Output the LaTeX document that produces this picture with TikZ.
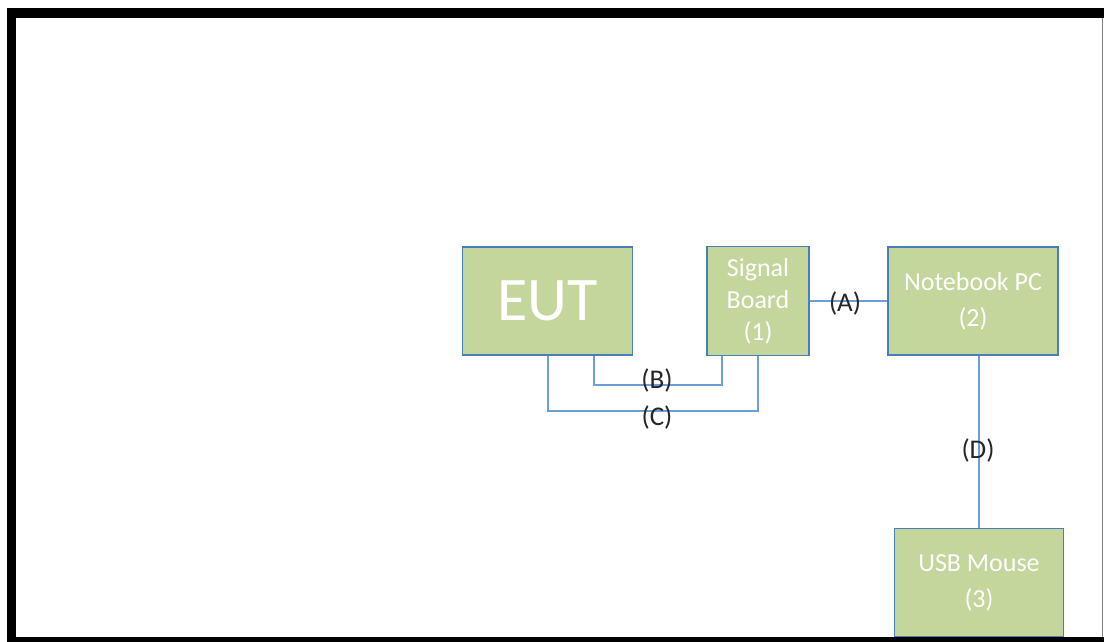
\documentclass[tikz,border=0pt]{standalone}
\usepackage{fontspec}
\setmainfont{Carlito}
\usetikzlibrary{calc}
\usepackage{xcolor}
\definecolor{boxfill}{HTML}{C3D69B}
\definecolor{boxline}{HTML}{4A7EBB}
\definecolor{wire}{HTML}{6C9FD8}

\begin{document}
\begin{tikzpicture}[x=0.5pt,y=-0.5pt,
    box/.style={draw=boxline,line width=0.8pt,fill=boxfill,text=white,align=center,inner sep=0pt,
      font=\fontsize{13}{16}\selectfont},
    wire/.style={draw=wire,line width=1pt},
    lbl/.style={text=black!85,inner sep=0pt,font=\fontsize{13.5}{16}\selectfont}]
    \useasboundingbox (0,0) rectangle (1104,642);
    % frame
    \fill[black] (7,8) rectangle (1104,18);
    \fill[black] (7,8) rectangle (16,642);
    \fill[black] (7,637) rectangle (1104,642);
    \draw[black!50,line width=0.6pt] (1102.5,18) -- (1102.5,637);
    % boxes
    \node[box,minimum width=85pt,minimum height=54pt,font=\fontsize{31}{36}\selectfont] (eut) at (547.5,301) {EUT};
    \node[box,minimum width=51pt,minimum height=54.5pt] (sb) at (758,301) {Signal\\Board\\(1)};
    \node[box,minimum width=85pt,minimum height=54pt] (nb) at (973,301) {Notebook PC\\[2pt](2)};
    \node[box,minimum width=84.5pt,minimum height=54pt] (usb) at (979,582.5) {USB Mouse\\[2pt](3)};
    % cables
    \draw[wire] (sb) -- (nb);
    \draw[wire] ([xshift=23.25pt]eut.south) -- ++(0,29.5) -| ([xshift=-18pt]sb.south);
    \draw[wire] (eut.south) -- ++(0,55.5) -| (sb.south);
    \draw[wire] (nb.south -| usb.north) -- (usb.north);
    \begin{scope}[lbl]
      \node (la) at (845,303) {(A)};
      \node (lb) at (657,380) {(B)};
      \node (lc) at (657,417) {(C)};
      \node (ld) at (978,450) {(D)};
    \end{scope}
\end{tikzpicture}
\end{document}
